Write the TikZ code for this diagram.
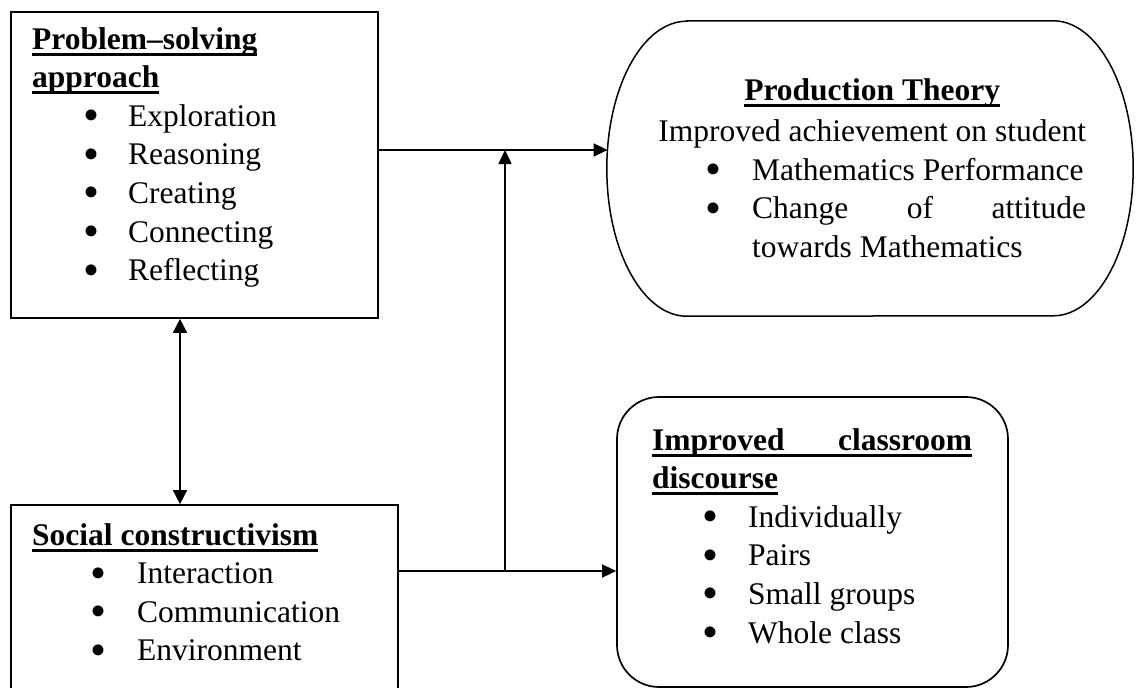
\documentclass[tikz,border=0pt]{standalone}
\usepackage{fontspec}
\setmainfont{Liberation Serif}
\usetikzlibrary{arrows.meta}

% bold heading with a heavy underline set just below the baseline
\newcommand\ulrule[1]{\leavevmode\setbox0=\hbox{#1}\rlap{\rule[-6.5pt]{\wd0}{2.8pt}}\box0}
\newcommand\hd[1]{\ulrule{\bfseries #1}\par}
% round bullet, a little larger than the text bullet
\newcommand\bul{\raisebox{-4.5pt}{\scalebox{1.45}{\textbullet}}}
% bulleted line: indent, bullet column width, text
\newcommand\itm[3]{\hspace*{#1pt}\makebox[#2pt][l]{\bul}#3\par}

\tikzset{
  frame/.style={draw, line width=1.7pt, inner sep=0pt},
  outline/.style={draw, line width=1.5pt},
  txt/.style={inner sep=0pt, anchor=base west,
    font=\fontsize{31.5}{38.6}\selectfont},
  link/.style={line width=1.6pt},
  tip/.style={link, -{Triangle[length=14pt,width=13pt]}},
  twotips/.style={link, {Triangle[length=14pt,width=14pt]}-{Triangle[length=14pt,width=14pt]}}
}

\begin{document}
\begin{tikzpicture}[x=1pt, y=-1pt]
  \clip (0,0) rectangle (1136,688);
  \fill[white] (0,0) rectangle (1136,688);

  % ---- boxes ----
  \node[frame, minimum width=367pt, minimum height=306pt] (ps) at (194.5,165) {};
  \node[frame, minimum width=387pt, minimum height=215pt] (sc) at (204.5,612.5) {};
  \node[frame, rounded corners=42pt, minimum width=391pt, minimum height=290pt] (cd) at (812.5,542) {};
  \node[inner sep=0pt, minimum width=526pt, minimum height=295pt] (pt) at (870,168.5) {};
  \draw[outline] ([xshift=80pt]pt.north west) -- ([xshift=-80pt]pt.north east)
    arc[start angle=90, end angle=-90, x radius=80pt, y radius=147.5pt]
    -- ([xshift=80pt]pt.south west)
    arc[start angle=270, end angle=90, x radius=80pt, y radius=147.5pt] -- cycle;

  % ---- texts ----
  \node[txt] (pstxt) at (32,49) {\parbox[t]{340pt}{%
    \hd{Problem–solving}
    \hd{approach}
    \itm{51}{45}{Exploration}
    \itm{51}{45}{Reasoning}
    \itm{51}{45}{Creating}
    \itm{51}{45}{Connecting}
    \itm{51}{45}{Reflecting}}};

  \node[txt] (sctxt) at (32,545) {\parbox[t]{360pt}{%
    \hd{Social constructivism}
    \itm{58}{47}{Interaction}
    \itm{58}{47}{Communication}
    \itm{58}{47}{Environment}}};

  \node[txt] (cdtxt) at (652,450) {\parbox[t]{330pt}{%
    \hd{\makebox[320pt][s]{Improved\hfill classroom}}
    \hd{discourse}
    \itm{50}{46}{Individually}
    \itm{50}{46}{Pairs}
    \itm{50}{46}{Small groups}
    \itm{50}{46}{Whole class}}};

  \node[txt] (pttxt) at (658,100) {\parbox[t]{428pt}{%
    \makebox[428pt]{\ulrule{\bfseries Production Theory}}\par
    \vspace{3pt}%
    \makebox[428pt]{Improved achievement on student}\par
    \itm{47}{47}{Mathematics Performance}
    \hspace*{47pt}\makebox[47pt][l]{\bul}\makebox[334pt][s]{Change\hfill of\hfill attitude}\par
    \hspace*{94pt}towards Mathematics\par}};

  % ---- connectors ----
  \coordinate (ptin) at (607.6,150);
  \coordinate (j1) at (505,150);
  \coordinate (j2) at (505,571);
  \coordinate (dx) at (180,0);

  \draw[tip] (ps.east |- ptin) -- (ptin);
  \draw[twotips] (ps.south -| dx) -- (sc.north -| dx);
  \draw[tip] (sc.east |- j2) -- (cd.west |- j2);
  \draw[tip] (j2) -- (j1);
\end{tikzpicture}
\end{document}
